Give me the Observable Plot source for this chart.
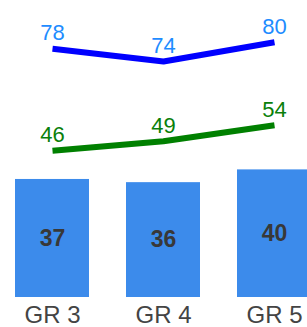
<!DOCTYPE html>
<html>
<head>
<meta charset="utf-8">
<script src="https://cdn.jsdelivr.net/npm/d3@7"></script>
<script src="https://cdn.jsdelivr.net/npm/@observablehq/plot@0.6"></script>
<style>
  html, body { margin: 0; padding: 0; background: #fff; overflow: hidden; }
  #chart svg { display: block; }
</style>
</head>
<body>
<div id="chart"></div>
<script>
const grades = ["GR 3", "GR 4", "GR 5"];
const barValues = [37, 36, 40];
const blueValues = [78, 74, 80];
const greenValues = [46, 49, 54];

const bars = grades.map((g, i) => ({grade: g, value: barValues[i]}));
const blue = grades.map((g, i) => ({grade: g, value: blueValues[i]}));
const green = grades.map((g, i) => ({grade: g, value: greenValues[i]}));

const font = "'Liberation Sans', Arial, sans-serif";

const chart = Plot.plot({
  width: 307,
  height: 327,
  marginTop: 0,
  marginBottom: 30,
  marginLeft: 14,
  marginRight: 0,
  style: {fontFamily: font, background: "#fff"},
  x: {domain: grades, range: [14, 313], paddingInner: 0.33, paddingOuter: 0, label: null},
  y: {domain: [0, 93.1], axis: null},
  marks: [
    Plot.barY(bars, {x: "grade", y: "value", fill: "#3c8beb"}),
    Plot.text(bars, {x: "grade", y: d => d.value / 2, text: d => String(d.value), fontSize: 23, fontWeight: "bold", fill: "#383838"}),
    Plot.line(blue, {x: "grade", y: "value", stroke: "#0000ff", strokeWidth: 6, strokeLinecap: "butt", strokeLinejoin: "miter"}),
    Plot.line(green, {x: "grade", y: "value", stroke: "#008000", strokeWidth: 6, strokeLinecap: "butt", strokeLinejoin: "miter"}),
    Plot.text(blue, {x: "grade", y: "value", text: d => String(d.value), dy: -15.5, fontSize: 22, fill: "#1e8cff"}),
    Plot.text(green, {x: "grade", y: "value", text: d => String(d.value), dy: -15.5, fontSize: 22, fill: "#0a800a"}),
    Plot.axisX({tickSize: 0, tickPadding: 8, fontSize: 24, color: "#444", label: null})
  ]
});
document.getElementById("chart").append(chart);
</script>
</body>
</html>
